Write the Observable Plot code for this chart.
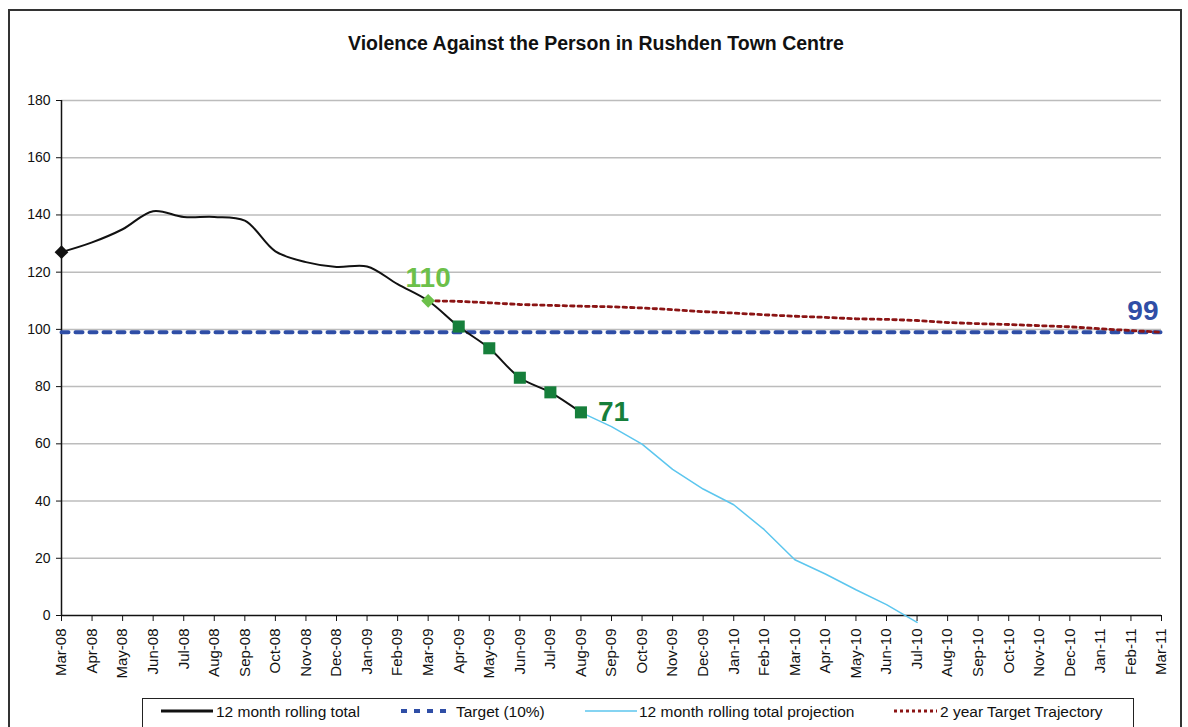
<!DOCTYPE html>
<html>
<head>
<meta charset="utf-8">
<script src="https://cdn.jsdelivr.net/npm/d3@7"></script>
<script src="https://cdn.jsdelivr.net/npm/@observablehq/plot@0.6"></script>
<style>
  html, body { margin: 0; padding: 0; background: #fff; }
  #wrap { position: relative; width: 1188px; height: 727px; overflow: hidden; font-family: "Liberation Sans", Arial, sans-serif; }
  #frame { position: absolute; left: 8px; top: 9px; width: 1174px; height: 760px; border: 2px solid #333; box-sizing: border-box; }
  #title { position: absolute; left: 8px; width: 1176px; top: 32px; text-align: center; font-size: 19.5px; font-weight: bold; color: #111; }
  #chart { position: absolute; left: 0; top: 0; }
  #legend { position: absolute; left: 142px; top: 698px; width: 992px; height: 60px; border: 1.5px solid #222; box-sizing: border-box; background: #fff; }
  .item { position: absolute; top: 4px; font-size: 15.5px; color: #111; white-space: nowrap; }
  .sw { position: absolute; top: 8px; }
</style>
</head>
<body>
<div id="wrap">
  <div id="frame"></div>
  <div id="chart"></div>
  <div id="title">Violence Against the Person in Rushden Town Centre</div>
  <div id="legend"></div>
</div>
<script>
const months = ["Mar-08","Apr-08","May-08","Jun-08","Jul-08","Aug-08","Sep-08","Oct-08","Nov-08","Dec-08",
  "Jan-09","Feb-09","Mar-09","Apr-09","May-09","Jun-09","Jul-09","Aug-09","Sep-09","Oct-09","Nov-09","Dec-09",
  "Jan-10","Feb-10","Mar-10","Apr-10","May-10","Jun-10","Jul-10","Aug-10","Sep-10","Oct-10","Nov-10","Dec-10",
  "Jan-11","Feb-11","Mar-11"];

// 12 month rolling total, Mar-08 .. Aug-09
const rollingValues = [127, 130.4, 135, 141.3, 139.3, 139.3, 138, 127.3, 123.5, 121.8, 122, 115.8, 110, 101, 93.4, 83.1, 78, 71];
// 12 month rolling total projection, Aug-09 .. Jul-10
const projectionValues = [71, 66, 59.9, 51.1, 44.2, 38.7, 30, 19.5, 14.5, 9, 3.8, -2.4];
// Target (10%), Mar-08 .. Mar-11
const targetValue = 99;
// 2 year Target Trajectory, Mar-09 .. Mar-11
const trajectoryValues = [110, 109.8, 109.3, 108.7, 108.4, 108.1, 107.9, 107.5, 106.9, 106.2, 105.7, 105.1,
  104.6, 104.2, 103.7, 103.5, 103.1, 102.4, 102.0, 101.7, 101.3, 100.9, 100.2, 99.6, 99];
const yTicks = [0, 20, 40, 60, 80, 100, 120, 140, 160, 180];
const squareMonths = ["Apr-09", "May-09", "Jun-09", "Jul-09", "Aug-09"];
const legendLabels = ["12 month rolling total", "Target (10%)", "12 month rolling total projection", "2 year Target Trajectory"];

const rolling = rollingValues.map((v, i) => ({month: months[i], value: v}));
const projection = projectionValues.map((v, i) => ({month: months[17 + i], value: v}));
const target = months.map(m => ({month: m, value: targetValue}));
const trajectory = trajectoryValues.map((v, i) => ({month: months[12 + i], value: v}));
const squares = rolling.filter(d => squareMonths.includes(d.month));

const cBlack = "#111111", cBlue = "#2f4ea6", cCyan = "#5cc6ee", cRed = "#8b1414",
      cLight = "#6cc04a", cDark = "#167f3b";

const chart = Plot.plot({
  width: 1188, height: 690,
  marginLeft: 61, marginRight: 27, marginTop: 100, marginBottom: 75,
  x: {type: "point", domain: months, padding: 0, round: false, label: null},
  y: {domain: [0, 180], label: null},
  style: {fontFamily: "'Liberation Sans', Arial, sans-serif", background: "transparent", color: "#111"},
  marks: [
    Plot.gridY(yTicks.filter(t => t > 0), {stroke: "#bcbcbc", strokeOpacity: 1, strokeWidth: 1.5}),
    Plot.axisY({ticks: yTicks, tickSize: 5, tickPadding: 6, fontSize: 14, label: null}),
    Plot.axisX({tickRotate: -90, tickSize: 6, tickPadding: 7, fontSize: 15, label: null}),
    Plot.ruleY([0], {stroke: "#111", strokeWidth: 1.5}),
    Plot.ruleX([months[0]], {y1: 0, y2: 180, stroke: "#111", strokeWidth: 1.5}),
    Plot.lineY(target, {x: "month", y: "value", stroke: cBlue, strokeWidth: 4, strokeDasharray: "7,7"}),
    Plot.lineY(trajectory, {x: "month", y: "value", stroke: cRed, strokeWidth: 2.8, strokeDasharray: "3.5,4"}),
    Plot.lineY(projection, {x: "month", y: "value", stroke: cCyan, strokeWidth: 1.5}),
    Plot.lineY(rolling, {x: "month", y: "value", stroke: cBlack, strokeWidth: 2, curve: "catmull-rom"}),
    Plot.dot([rolling[0]], {x: "month", y: "value", symbol: "diamond2", r: 6.2, fill: cBlack}),
    Plot.dot([rolling[12]], {x: "month", y: "value", symbol: "diamond2", r: 6.2, fill: cLight}),
    Plot.dot(squares, {x: "month", y: "value", symbol: "square", r: 6.8, fill: cDark}),
    Plot.text([rolling[12]], {x: "month", y: "value", text: d => String(d.value), dy: -23, fill: cLight, fontSize: 28, fontWeight: "bold"}),
    Plot.text([rolling[17]], {x: "month", y: "value", text: d => String(d.value), dx: 17, textAnchor: "start", fill: cDark, fontSize: 28, fontWeight: "bold"}),
    Plot.text([trajectory[trajectory.length - 1]], {x: "month", y: "value", text: d => String(d.value), dx: -3, dy: -21, textAnchor: "end", fill: cBlue, fontSize: 28, fontWeight: "bold"})
  ]
});
document.getElementById("chart").appendChild(chart);

// legend
const legend = document.getElementById("legend");
const L0 = 142;
const swatches = [
  {x: 160, w: 52, stroke: cBlack, width: 3, dash: null},
  {x: 400, w: 52, stroke: cBlue, width: 4, dash: "6,7"},
  {x: 584, w: 52, stroke: cCyan, width: 1.5, dash: null},
  {x: 893, w: 43, stroke: cRed, width: 3, dash: "3,3"}
];
const textX = [215, 455, 638, 939];
swatches.forEach((s, i) => {
  const svg = d3.create("svg").attr("class", "sw").attr("width", s.w).attr("height", 8)
    .style("left", (s.x - L0) + "px");
  svg.append("line").attr("x1", 0).attr("x2", s.w).attr("y1", 4).attr("y2", 4)
    .attr("stroke", s.stroke).attr("stroke-width", s.width).attr("stroke-dasharray", s.dash);
  legend.appendChild(svg.node());
  const t = document.createElement("div");
  t.className = "item";
  t.style.left = (textX[i] - L0) + "px";
  t.textContent = legendLabels[i];
  legend.appendChild(t);
});
</script>
</body>
</html>
